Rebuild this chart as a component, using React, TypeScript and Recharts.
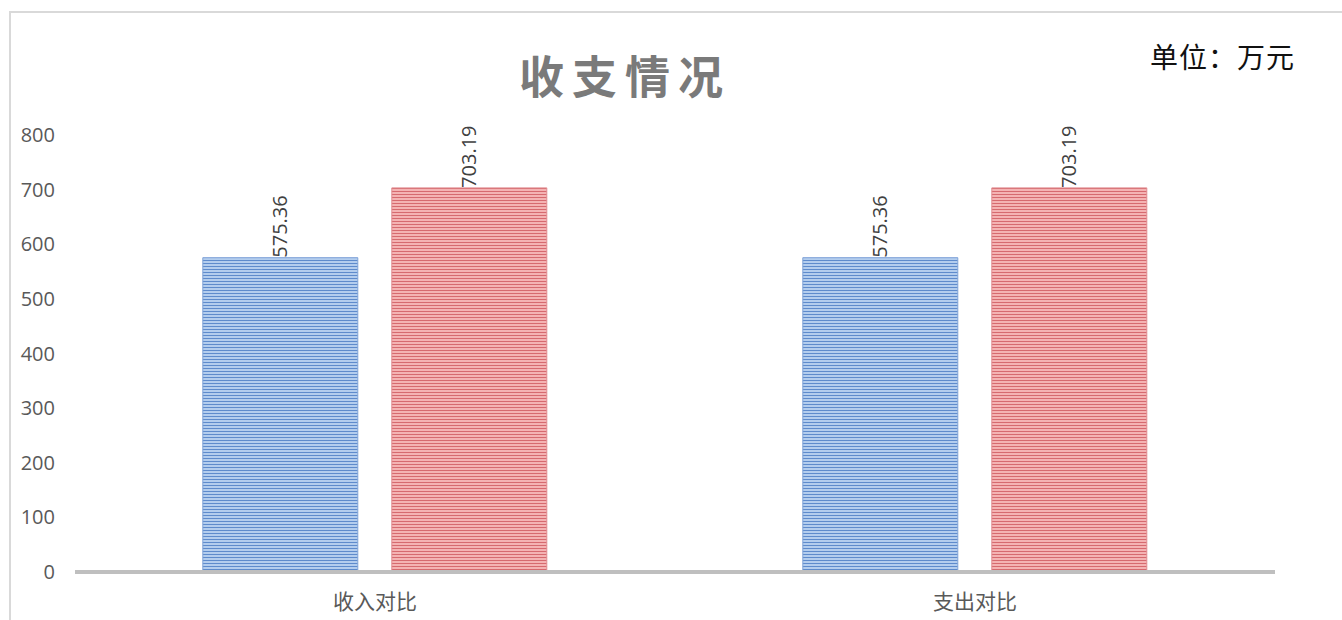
import { Bar, BarChart, LabelList, XAxis, YAxis } from "recharts";

const categories = ["收入对比", "支出对比"];
const seriesA = [575.36, 575.36];
const seriesB = [703.19, 703.19];
const yTicks = [0, 100, 200, 300, 400, 500, 600, 700, 800];

const data = categories.map((name, i) => ({ name, a: seriesA[i], b: seriesB[i] }));

const CJK = '"Noto Sans CJK SC", "Open Sans", sans-serif';

function RotatedLabel(props: any) {
  const { x, y, width, value } = props;
  const cx = x + width / 2;
  return (
    <text
      x={cx}
      y={y}
      transform={`rotate(-90 ${cx} ${y})`}
      textAnchor="start"
      dy="0.35em"
      fontSize={20}
      fill="#404040"
      fontFamily='"Open Sans", sans-serif'
    >
      {value.toFixed(2)}
    </text>
  );
}

export default function App() {
  return (
    <div style={{ position: "absolute", left: 0, top: 0, width: 1342, height: 620, background: "#fff", overflow: "hidden" }}>
      <div
        style={{
          position: "absolute",
          left: 9,
          top: 11,
          width: 1400,
          height: 700,
          borderTop: "2px solid #d9d9d9",
          borderLeft: "2px solid #d9d9d9",
        }}
      />
      <div
        style={{
          position: "absolute",
          left: 0,
          width: 1250,
          top: 42,
          textAlign: "center",
          fontFamily: CJK,
          fontWeight: 700,
          fontSize: 45,
          letterSpacing: 8,
          color: "#7a7a7a",
        }}
      >
        收支情况
      </div>
      <div
        style={{
          position: "absolute",
          left: 1150,
          top: 36,
          fontFamily: CJK,
          fontSize: 28,
          letterSpacing: 1,
          color: "#111",
        }}
      >
        单位：万元
      </div>
      <div style={{ position: "absolute", left: 0, top: 0 }}>
        <BarChart
          width={1342}
          height={620}
          data={data}
          margin={{ top: 135, right: 67, left: 0, bottom: 0 }}
          barCategoryGap="21.3%"
          barGap={34}
        >
          <defs>
            <pattern id="blueStripe" width="4" height="3" patternUnits="userSpaceOnUse">
              <rect width="4" height="3" fill="#b3cdee" />
              <rect y="2" width="4" height="1" fill="#5e8bcc" />
            </pattern>
            <pattern id="redStripe" width="4" height="3" patternUnits="userSpaceOnUse">
              <rect width="4" height="3" fill="#f4b3b3" />
              <rect y="2" width="4" height="1" fill="#d66a6f" />
            </pattern>
          </defs>
          <XAxis
            dataKey="name"
            height={48}
            axisLine={{ stroke: "#bfbfbf", strokeWidth: 4 }}
            tickLine={false}
            tick={{ fill: "#595959", fontSize: 21, fontFamily: CJK }}
            tickMargin={16}
          />
          <YAxis
            width={75}
            domain={[0, 800]}
            ticks={yTicks}
            axisLine={false}
            tickLine={false}
            tick={{ fill: "#595959", fontSize: 20, fontFamily: '"Open Sans", sans-serif' }}
            tickMargin={14}
          />
          <Bar dataKey="a" fill="url(#blueStripe)" stroke="#7fa3d8" strokeWidth={1} isAnimationActive={false}>
            <LabelList dataKey="a" content={RotatedLabel} />
          </Bar>
          <Bar dataKey="b" fill="url(#redStripe)" stroke="#e08c90" strokeWidth={1} isAnimationActive={false}>
            <LabelList dataKey="b" content={RotatedLabel} />
          </Bar>
        </BarChart>
      </div>
    </div>
  );
}
